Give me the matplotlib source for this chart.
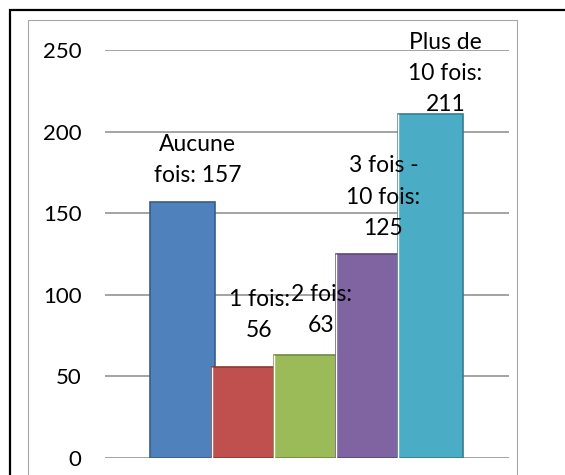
import textwrap
import matplotlib
matplotlib.use("Agg")
import matplotlib.pyplot as plt
from matplotlib.patches import Rectangle

categories = ["Aucune fois", "1 fois", "2 fois", "3 fois - 10 fois", "Plus de 10 fois"]
values = [157, 56, 63, 125, 211]
yticks = [0, 50, 100, 150, 200, 250]

colors = ["#4F81BD", "#C0504D", "#9BBB59", "#8064A2", "#4BACC6"]
edges = ["#385D8A", "#8C3836", "#71893F", "#5C4776", "#357D91"]
label_dy = [42, 52, 45, 57, 40]  # pixels above bar top (label centre)

plt.rcParams['font.family'] = ['Lato', 'DejaVu Sans']

W, H = 565, 475
fig = plt.figure(figsize=(W / 100, H / 100), dpi=100)
fig.patch.set_facecolor("white")

# outer black frame and inner grey frame
fig.add_artist(Rectangle((9.5 / W, -0.1), 1.2, (H - 10) / H + 0.1,
                         transform=fig.transFigure, fill=False,
                         edgecolor="black", linewidth=1.6))
fig.add_artist(Rectangle((28 / W, -0.1), (517 - 28) / W, (H - 20.5) / H + 0.1,
                         transform=fig.transFigure, fill=False,
                         edgecolor="#a6a6a6", linewidth=0.8))

ax = fig.add_axes([105 / W, 17 / H, (509 - 105) / W, (458 - 50) / H])
ax.set_xlim(-1.25, 5.27)
ax.set_ylim(0, 250)
ax.set_facecolor("none")
for s in ax.spines.values():
    s.set_visible(False)
ax.set_yticks(yticks)
ax.set_yticklabels([str(t) for t in yticks], fontsize=16, color="black")
ax.tick_params(axis="y", length=0, pad=17)
ax.set_xticks([])
ax.yaxis.grid(True, color="#8a8a8a", linewidth=1.1)
ax.set_axisbelow(True)

xs = list(range(len(values)))
width = 1.04
for i, (x, v) in enumerate(zip(xs, values)):
    ax.bar(x, v, width=width, color=colors[i], edgecolor=edges[i],
           linewidth=1.2, zorder=2 + i)
    if i > 0:
        ax.vlines(x - width / 2, 0, v, color="white", linewidth=1.0, zorder=2 + i)

for i, (x, v) in enumerate(zip(xs, values)):
    txt = "\n".join(textwrap.wrap(f"{categories[i]}: {v}", 9))
    ax.annotate(txt, xy=(x, v), xytext=(15, label_dy[i]),
                textcoords="offset pixels", ha="center", va="center",
                multialignment="center", fontsize=16.5, linespacing=1.6,
                color="black", zorder=10, annotation_clip=False)

fig.savefig("out.png", dpi=100)
